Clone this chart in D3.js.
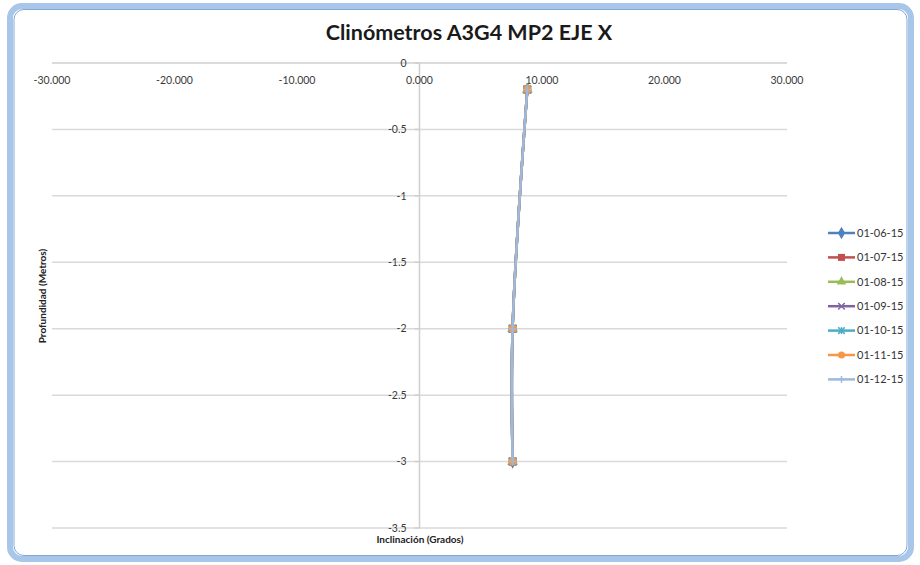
<!DOCTYPE html>
<html>
<head>
<meta charset="utf-8">
<script src="https://cdn.jsdelivr.net/npm/d3@7"></script>
<style>
  html, body { margin: 0; padding: 0; background: #ffffff; }
  svg { display: block; }
  text { font-family: Lato, "Open Sans", "Liberation Sans", sans-serif; }
</style>
</head>
<body>
<svg id="chart" width="920" height="565"></svg>
<script>
// Readings per date: inclination (degrees) at each depth (metres)
const depths = [-0.2, -2, -3];
const seriesNames = ["01-06-15", "01-07-15", "01-08-15", "01-09-15", "01-10-15", "01-11-15", "01-12-15"];
const s0106 = [8.8, 7.6, 7.6];
const s0107 = [8.8, 7.6, 7.6];
const s0108 = [8.8, 7.6, 7.6];
const s0109 = [8.8, 7.6, 7.6];
const s0110 = [8.8, 7.6, 7.6];
const s0111 = [8.8, 7.6, 7.6];
const s0112 = [8.8, 7.6, 7.6];
const seriesValues = [s0106, s0107, s0108, s0109, s0110, s0111, s0112];
const xTicks = [-30, -20, -10, 0, 10, 20, 30];
const yTicks = [0, -0.5, -1, -1.5, -2, -2.5, -3, -3.5];

const colors = ["#4F81BD", "#C0504D", "#9BBB59", "#8064A2", "#4BACC6", "#F79646", "#9DB9DE"];
const markers = ["diamond", "square", "triangle", "x", "star", "circle", "plus"];

const svg = d3.select("#chart");

// outer frame
svg.append("rect")
  .attr("x", 10).attr("y", 6).attr("width", 901).attr("height", 553)
  .attr("rx", 12)
  .attr("fill", "#ffffff")
  .attr("stroke", "#a8c6e8").attr("stroke-width", 6);
svg.append("rect")
  .attr("x", 14).attr("y", 9.5).attr("width", 893).attr("height", 546)
  .attr("rx", 10)
  .attr("fill", "none")
  .attr("stroke", "#7ea8dc").attr("stroke-width", 1);

const x = d3.scaleLinear().domain([-30, 30]).range([52, 787]);
const y = d3.scaleLinear().domain([0, -3.5]).range([63, 528]);

// title
svg.append("text")
  .attr("x", 469).attr("y", 40)
  .attr("text-anchor", "middle")
  .attr("font-size", 21.5).attr("font-weight", "bold")
  .attr("fill", "#1a1a1a")
  .text("Clinómetros A3G4 MP2 EJE X");

// horizontal gridlines
svg.append("g")
  .selectAll("line")
  .data(yTicks.slice(1))
  .join("line")
  .attr("x1", x(-30)).attr("x2", x(30))
  .attr("y1", d => y(d)).attr("y2", d => y(d))
  .attr("stroke", "#d9d9d9").attr("stroke-width", 1.5);

// vertical axis at x = 0
svg.append("line")
  .attr("x1", x(0)).attr("x2", x(0))
  .attr("y1", y(0)).attr("y2", y(-3.5))
  .attr("stroke", "#cfcfcf").attr("stroke-width", 1.5);

// horizontal axis at depth 0
svg.append("line")
  .attr("x1", x(-30)).attr("x2", x(30))
  .attr("y1", y(0)).attr("y2", y(0))
  .attr("stroke", "#cfcfcf").attr("stroke-width", 1.5);

// x tick labels (plain hyphen for negatives)
const fmtX = d => d3.format(".3f")(d).replace("\u2212", "-");
svg.append("g")
  .selectAll("text")
  .data(xTicks)
  .join("text")
  .attr("x", d => x(d)).attr("y", y(0) + 17)
  .attr("dy", "0.35em")
  .attr("text-anchor", "middle")
  .attr("font-size", 10.5)
  .attr("fill", "#3a3a3a")
  .text(d => fmtX(d));

// y ticks and labels
svg.append("g")
  .selectAll("line")
  .data(yTicks)
  .join("line")
  .attr("x1", x(0) - 5).attr("x2", x(0))
  .attr("y1", d => y(d)).attr("y2", d => y(d))
  .attr("stroke", "#cfcfcf").attr("stroke-width", 1.5);
svg.append("g")
  .selectAll("text")
  .data(yTicks)
  .join("text")
  .attr("x", x(0) - 13).attr("y", d => y(d))
  .attr("dy", "0.35em")
  .attr("text-anchor", "end")
  .attr("font-size", 10.5)
  .attr("fill", "#3a3a3a")
  .text(d => String(d));

// axis titles
svg.append("text")
  .attr("x", 420).attr("y", 543)
  .attr("text-anchor", "middle")
  .attr("font-size", 10).attr("font-weight", "bold")
  .attr("fill", "#222")
  .text("Inclinación (Grados)");
svg.append("text")
  .attr("transform", "translate(46,296) rotate(-90)")
  .attr("text-anchor", "middle")
  .attr("font-size", 10).attr("font-weight", "bold")
  .attr("fill", "#222")
  .text("Profundidad (Metros)");

function drawMarker(g, type, color, size) {
  const s = size;
  if (type === "diamond") {
    g.append("path").attr("d", d3.symbol(d3.symbolDiamond, s * s * 0.9)()).attr("fill", color);
  } else if (type === "square") {
    g.append("rect").attr("x", -s / 2).attr("y", -s / 2).attr("width", s).attr("height", s).attr("fill", color);
  } else if (type === "triangle") {
    g.append("path").attr("d", d3.symbol(d3.symbolTriangle, s * s * 0.8)()).attr("fill", color);
  } else if (type === "x") {
    g.append("path").attr("d", d3.symbol(d3.symbolX, s * s * 0.6)()).attr("stroke", color).attr("stroke-width", 1.5).attr("fill", "none");
  } else if (type === "star") {
    g.append("path").attr("d", d3.symbol(d3.symbolX, s * s * 0.6)()).attr("stroke", color).attr("stroke-width", 1.5).attr("fill", "none");
    g.append("line").attr("x1", 0).attr("x2", 0).attr("y1", -s / 2).attr("y2", s / 2).attr("stroke", color).attr("stroke-width", 1.5);
  } else if (type === "circle") {
    g.append("circle").attr("r", s / 2).attr("fill", color);
  } else if (type === "plus") {
    g.append("line").attr("x1", -s / 2).attr("x2", s / 2).attr("y1", 0).attr("y2", 0).attr("stroke", color).attr("stroke-width", 1.5);
    g.append("line").attr("x1", 0).attr("x2", 0).attr("y1", -s / 2).attr("y2", s / 2).attr("stroke", color).attr("stroke-width", 1.5);
  }
}

// series lines with markers
const line = d3.line()
  .x(d => x(d[0]))
  .y(d => y(d[1]))
  .curve(d3.curveCatmullRom.alpha(0.5));

seriesValues.forEach((vals, i) => {
  const pts = vals.map((v, j) => [v, depths[j]]);
  const g = svg.append("g");
  g.append("path")
    .attr("d", line(pts))
    .attr("fill", "none")
    .attr("stroke", colors[i])
    .attr("stroke-width", 2.5);
  pts.forEach(p => {
    const m = g.append("g").attr("transform", `translate(${x(p[0])},${y(p[1])})`);
    drawMarker(m, markers[i], colors[i], 8);
  });
});

// legend
const legend = svg.append("g");
seriesNames.forEach((name, i) => {
  const ly = 233 + i * 24.4;
  const g = legend.append("g");
  g.append("line")
    .attr("x1", 828).attr("x2", 855)
    .attr("y1", ly).attr("y2", ly)
    .attr("stroke", colors[i]).attr("stroke-width", 2.5);
  const m = g.append("g").attr("transform", `translate(841.5,${ly})`);
  drawMarker(m, markers[i], colors[i], 7);
  g.append("text")
    .attr("x", 857).attr("y", ly)
    .attr("dy", "0.35em")
    .attr("font-size", 11)
    .attr("fill", "#333")
    .text(name);
});
</script>
</body>
</html>
